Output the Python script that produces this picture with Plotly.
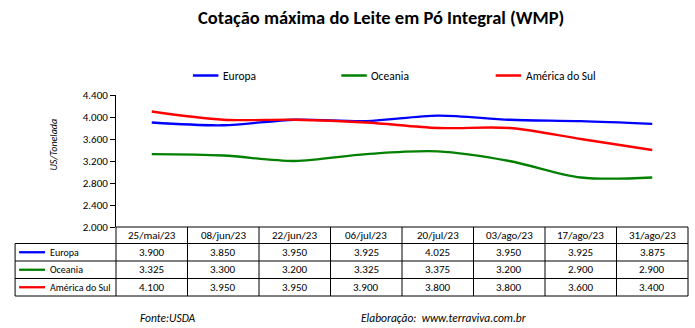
import plotly.graph_objects as go

dates = ["25/mai/23", "08/jun/23", "22/jun/23", "06/jul/23", "20/jul/23", "03/ago/23", "17/ago/23", "31/ago/23"]
series_names = ["Europa", "Oceania", "América do Sul"]
europa = [3900, 3850, 3950, 3925, 4025, 3950, 3925, 3875]
oceania = [3325, 3300, 3200, 3325, 3375, 3200, 2900, 2900]
america_sul = [4100, 3950, 3950, 3900, 3800, 3800, 3600, 3400]
y_ticks = [2000, 2400, 2800, 3200, 3600, 4000, 4400]

series_values = [europa, oceania, america_sul]
colors = ["#0000FF", "#008000", "#FF0000"]

W, H = 695, 328
L, R, T, B = 116, 6.5, 95, 101
PW = W - L - R
PH = H - T - B
FONT = "Carlito, Lato, 'Liberation Sans', sans-serif"

def px_x(px):
    return (px - L) / PW

def px_y(py):
    return (H - B - py) / PH

def fmt(v):
    return f"{v:,.0f}".replace(",", ".")

fig = go.Figure()
xs = list(range(len(dates)))
for name, vals, col in zip(series_names, series_values, colors):
    fig.add_trace(go.Scatter(
        x=xs, y=vals, name=name, mode="lines", showlegend=False,
        line=dict(color=col, width=2.3, shape="spline", smoothing=0.9),
        hoverinfo="x+y+name",
    ))

shapes = []
annotations = []
line_style = dict(color="black", width=1)

# legend (drawn above the plot)
legend_x = [193, 341.5, 496]
legend_y = 75.5
for name, col, lx in zip(series_names, colors, legend_x):
    shapes.append(dict(type="line", xref="paper", yref="paper",
                       x0=px_x(lx), x1=px_x(lx + 25.5), y0=px_y(legend_y), y1=px_y(legend_y),
                       line=dict(color=col, width=2.5)))
    annotations.append(dict(x=px_x(lx + 28), xref="paper", y=px_y(legend_y), yref="paper", text=name,
                            showarrow=False, font=dict(size=11.5, color="black", family=FONT),
                            xanchor="left", yanchor="middle"))

# table geometry (pixels)
row_edges = [227, 243.5, 261, 278.5, 296]
left_px = 15
col_w = PW / len(dates)

for i, ry in enumerate(row_edges):
    x0 = L if i == 0 else left_px
    shapes.append(dict(type="line", xref="paper", yref="paper",
                       x0=px_x(x0), x1=1, y0=px_y(ry), y1=px_y(ry), line=line_style))
shapes.append(dict(type="line", xref="paper", yref="paper",
                   x0=px_x(left_px), x1=px_x(left_px), y0=px_y(row_edges[1]), y1=px_y(row_edges[-1]), line=line_style))
for j in range(len(dates) + 1):
    xp = L + j * col_w
    shapes.append(dict(type="line", xref="paper", yref="paper",
                       x0=px_x(xp), x1=px_x(xp), y0=px_y(row_edges[0]), y1=px_y(row_edges[-1]), line=line_style))

for j, d in enumerate(dates):
    annotations.append(dict(x=j, xref="x", y=px_y(235.3), yref="paper", text=d, showarrow=False,
                            font=dict(size=11, color="black", family=FONT), xanchor="center", yanchor="middle"))
for i, (name, vals, col) in enumerate(zip(series_names, series_values, colors)):
    cy = (row_edges[i + 1] + row_edges[i + 2]) / 2
    shapes.append(dict(type="line", xref="paper", yref="paper",
                       x0=px_x(19), x1=px_x(45), y0=px_y(cy), y1=px_y(cy),
                       line=dict(color=col, width=2.3)))
    annotations.append(dict(x=px_x(47.5), xref="paper", y=px_y(cy), yref="paper", text=name, showarrow=False,
                            font=dict(size=10, color="black", family=FONT), xanchor="left", yanchor="middle"))
    for j, v in enumerate(vals):
        annotations.append(dict(x=j, xref="x", y=px_y(cy), yref="paper", text=fmt(v), showarrow=False,
                                font=dict(size=11, color="black", family=FONT), xanchor="center", yanchor="middle"))

annotations.append(dict(x=px_x(381), xref="paper", y=px_y(17), yref="paper",
                        text="<b>Cotação máxima do Leite em Pó Integral (WMP)</b>", showarrow=False,
                        font=dict(size=18.5, color="black", family=FONT), xanchor="center", yanchor="middle"))
annotations.append(dict(x=px_x(52.5), xref="paper", y=px_y(145), yref="paper",
                        text="<i>US/Tonelada</i>", showarrow=False, textangle=-90,
                        font=dict(size=10, color="black", family=FONT), xanchor="center", yanchor="middle"))
annotations.append(dict(x=px_x(138), xref="paper", y=px_y(317.5), yref="paper",
                        text="<i>Fonte:USDA</i>", showarrow=False,
                        font=dict(size=11.5, color="black", family=FONT), xanchor="left", yanchor="middle"))
annotations.append(dict(x=px_x(359), xref="paper", y=px_y(317.5), yref="paper",
                        text="<i>Elaboração:  www.terraviva.com.br</i>", showarrow=False,
                        font=dict(size=11.5, color="black", family=FONT), xanchor="left", yanchor="middle"))

fig.update_layout(
    width=W, height=H,
    margin=dict(l=L, r=R, t=T, b=B, pad=0),
    paper_bgcolor="white", plot_bgcolor="white",
    separators=",.",
    font=dict(family=FONT, size=11, color="black"),
    showlegend=False,
    xaxis=dict(range=[-0.5, len(dates) - 0.5], showticklabels=False, showgrid=False,
               zeroline=False, showline=False, ticks=""),
    yaxis=dict(range=[2000, 4400], tickvals=y_ticks, tickformat=",.0f", showgrid=False,
               zeroline=False, showline=True, linecolor="black", linewidth=1,
               ticks="outside", ticklen=5, tickcolor="black",
               tickfont=dict(size=11, family=FONT)),
    shapes=shapes, annotations=annotations,
)

fig.write_html("out.html")
